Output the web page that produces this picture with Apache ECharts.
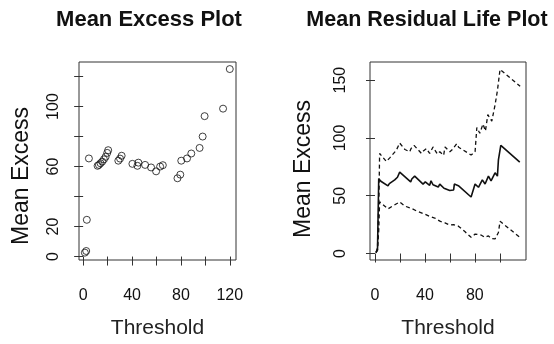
<!DOCTYPE html>
<html>
<head>
<meta charset="utf-8">
<script src="https://cdn.jsdelivr.net/npm/echarts@6/dist/echarts.min.js"></script>
<style>
  html, body {margin: 0; padding: 0; background: #fff;}
  #main {width: 554px; height: 344px;}
</style>
</head>
<body>
<div id="main"></div>
<script>
// mean excess plot: thresholds and the mean excess at each of them
const meThreshold = [1.4, 2.5, 3.0, 4.7, 11.8, 12.9, 14.2, 15.6, 17.0, 18.4, 19.7, 20.5,
  28.8, 30.2, 31.5, 40.3, 44.4, 45.2, 50.7, 55.6, 59.7, 63.0, 65.2,
  77.2, 79.5, 80.3, 85.0, 88.5, 95.3, 97.8, 99.4, 114.5, 120.0];
const meValue = [2.6, 3.7, 24.5, 65.4, 60.5, 61.1, 62.2, 63.3, 64.8, 66.5, 69.1, 70.9,
  63.9, 65.3, 67.2, 61.8, 60.5, 62.6, 61.1, 59.4, 56.8, 60.0, 60.9,
  52.2, 54.6, 63.9, 65.4, 68.7, 72.4, 80.0, 93.6, 98.6, 125.0];

// mean residual life plot: mean line and the two confidence bounds
const mrlMean = [[0.8, 1], [2.0, 3], [3.0, 64.8], [4.7, 62.5], [10.4, 58.5], [11.5, 60.5], [13, 61.5],
  [15.8, 63.7], [18, 66], [19.8, 70.4], [28.6, 62], [29.5, 64.5], [31.8, 67], [38.5, 60.1],
  [40.3, 62], [43.8, 59], [44.9, 62.9], [46.5, 59.5], [50.7, 57.5], [51.9, 60.1], [55.3, 56.5],
  [56.1, 58], [59.9, 54.5], [60.5, 56], [63, 55], [63.6, 60.1], [66.8, 58.7], [77, 48.9],
  [80.2, 60.1], [82.9, 57.3], [86, 63.7], [88.2, 60.1], [90.9, 67], [93, 62.9], [96.2, 69.8],
  [98.1, 67], [98.9, 81], [100.8, 93.6], [116, 79]];
const mrlUpper = [[0.8, 1], [2.0, 5], [3.2, 50], [3.7, 86.6], [9.1, 79.6], [12, 83], [17.1, 89.4],
  [19.8, 95.6], [24, 90], [27.8, 88], [29, 91], [31.3, 93.6], [37.2, 86.6], [39, 89], [41.2, 90.8],
  [43.8, 86.6], [46.5, 92.2], [50, 86], [51.9, 88], [55, 85], [56.1, 92.2], [60, 88], [62, 90],
  [65.5, 95], [67, 92], [77, 85.2], [80.2, 88], [81.6, 109], [84, 104], [86.5, 112], [88.5, 106],
  [90.4, 120.1], [93.6, 114.6], [96.2, 128.5], [98.1, 141], [100.2, 159.3], [116.3, 144.7]];
const mrlLower = [[0.8, 0.5], [2.0, 3], [3.0, 20], [3.7, 44.7], [10.4, 38.6], [14, 41], [19.8, 44.7],
  [24, 41], [29.1, 39.1], [33, 37], [39.8, 34.1], [44, 32], [47.9, 30.7], [52, 28], [56.1, 26.5],
  [59.9, 24.6], [63, 25], [66.8, 23.7], [72, 19], [77, 14], [80.2, 16.8], [85, 16], [88, 14],
  [90.9, 15.3], [93, 13], [96.2, 12.6], [98.9, 18.2], [100.2, 27.9], [115.5, 14.5]];

// tick positions and the labels R kept
const meXTicks = [0, 20, 40, 60, 80, 100, 120];
const meXLabels = [0, 40, 80, 120];
const meYTicks = [0, 20, 40, 60, 80, 100, 120];
const meYLabels = [0, 20, 60, 100];
const mrlXTicks = [0, 20, 40, 60, 80, 100];
const mrlXLabels = [0, 40, 80];
const mrlYTicks = [0, 50, 100, 150];

const font = '"Liberation Sans", Arial, sans-serif';
const ink = '#111';

const xAxis = (gridIndex, min, max, ticks, labels) => ({
  type: 'value', gridIndex, min, max,
  name: 'Threshold', nameLocation: 'middle', nameGap: 58,
  nameTextStyle: {fontSize: 21, color: '#222', fontFamily: font},
  axisLine: {show: false},
  axisTick: {show: true, length: 9, customValues: ticks, lineStyle: {color: '#333'}},
  axisLabel: {customValues: labels, margin: 28, fontSize: 16, color: ink, fontFamily: font},
  splitLine: {show: false}
});
const yAxis = (gridIndex, min, max, ticks, labels, margin) => ({
  type: 'value', gridIndex, min, max,
  axisLine: {show: false},
  axisTick: {show: true, length: 9, customValues: ticks, lineStyle: {color: '#333'}},
  axisLabel: {customValues: labels, rotate: 90, margin, fontSize: 16, color: ink, fontFamily: font},
  splitLine: {show: false}
});
const text = (str, x, y, style) => ({
  type: 'text', x, y, rotation: style.rotation || 0,
  style: {text: str, font: style.font, fill: ink, textAlign: 'center', textVerticalAlign: 'middle'}
});

const chart = echarts.init(document.getElementById('main'));
chart.setOption({
  backgroundColor: '#fff',
  animation: false,
  graphic: [
    text('Mean Excess Plot', 149, 20, {font: 'bold 22px ' + font}),
    text('Mean Residual Life Plot', 427, 20, {font: 'bold 21.5px ' + font}),
    text('Mean Excess', 22, 176, {font: '23px ' + font, rotation: Math.PI / 2}),
    text('Mean Excess', 304, 169, {font: '23px ' + font, rotation: Math.PI / 2})
  ],
  grid: [
    {left: 79, right: 318, top: 62, bottom: 77, show: true, borderColor: '#333', borderWidth: 1},
    {left: 370, right: 28, top: 62, bottom: 77, show: true, borderColor: '#333', borderWidth: 1}
  ],
  xAxis: [
    xAxis(0, -3.4, 125.1, meXTicks, meXLabels),
    xAxis(1, -4, 121, mrlXTicks, mrlXLabels)
  ],
  yAxis: [
    yAxis(0, -2.3, 129.7, meYTicks, meYLabels, 17),
    yAxis(1, -5.6, 165.7, mrlYTicks, mrlYTicks, 21)
  ],
  series: [
    {
      type: 'scatter', xAxisIndex: 0, yAxisIndex: 0,
      data: meThreshold.map((t, i) => [t, meValue[i]]),
      symbol: 'circle', symbolSize: 7,
      itemStyle: {color: 'transparent', borderColor: '#111', borderWidth: 1}
    },
    {
      type: 'line', xAxisIndex: 1, yAxisIndex: 1, data: mrlMean,
      symbol: 'none', lineStyle: {color: '#111', width: 1.6}
    },
    {
      type: 'line', xAxisIndex: 1, yAxisIndex: 1, data: mrlUpper,
      symbol: 'none', lineStyle: {color: '#111', width: 1.3, type: [4, 3]}
    },
    {
      type: 'line', xAxisIndex: 1, yAxisIndex: 1, data: mrlLower,
      symbol: 'none', lineStyle: {color: '#111', width: 1.3, type: [4, 3]}
    }
  ]
});
</script>
</body>
</html>
